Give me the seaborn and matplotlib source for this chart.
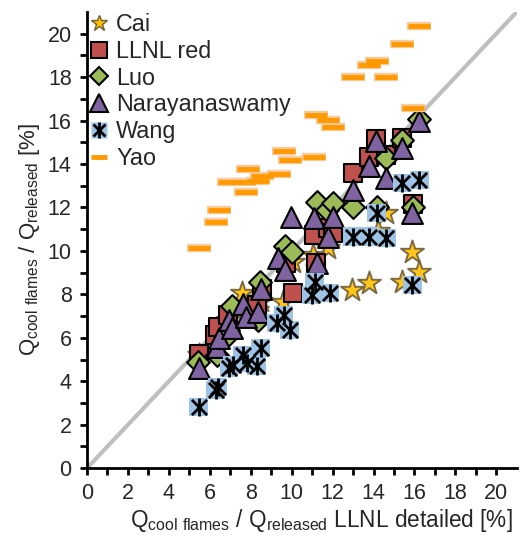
import matplotlib
matplotlib.use("Agg")
import matplotlib.pyplot as plt
import seaborn as sns
import pandas as pd
import numpy as np
from matplotlib.lines import Line2D

# ---- data ----
cai_x = [5.46, 6.34, 6.90, 7.56, 8.29, 8.50, 9.56, 10.05, 11.02, 11.76, 12.93, 13.80, 14.20, 14.63, 15.37, 15.90, 16.24]
cai_y = [5.20, 5.90, 6.80, 8.06, 7.30, 7.70, 7.65, 9.49, 9.82, 10.14, 8.20, 8.53, 10.90, 11.75, 8.57, 9.95, 9.03]

llnl_x = [5.46, 6.24, 6.39, 6.88, 8.29, 8.54, 9.71, 10.05, 11.07, 11.17, 11.76, 12.00, 12.98, 13.76, 14.10, 14.63, 15.41, 15.95]
llnl_y = [5.25, 6.13, 6.50, 7.05, 7.51, 8.25, 9.45, 8.06, 10.74, 9.45, 11.06, 10.83, 13.59, 14.33, 15.16, 14.42, 15.21, 12.17]

luo_x = [5.41, 6.34, 6.88, 7.07, 8.34, 8.44, 9.66, 10.00, 11.22, 11.71, 12.00, 12.98, 14.15, 14.59, 15.41, 16.24, 15.95]
luo_y = [4.88, 5.21, 6.13, 7.47, 6.82, 8.57, 10.23, 9.95, 12.26, 11.89, 12.21, 12.03, 12.03, 14.29, 15.12, 16.08, 12.03]

nara_x = [5.46, 6.34, 6.44, 6.93, 7.07, 7.61, 7.76, 8.34, 8.49, 9.32, 9.66, 9.95, 11.07, 11.22, 11.76, 12.00, 12.98, 13.80, 14.10, 14.59, 15.41, 16.20, 15.90]
nara_y = [4.61, 5.58, 5.99, 6.82, 6.45, 7.56, 6.96, 7.19, 8.25, 9.68, 9.12, 11.57, 11.52, 9.45, 10.65, 11.57, 12.81, 13.92, 15.07, 13.36, 14.75, 15.99, 11.75]

wang_x = [5.46, 6.29, 6.39, 6.93, 7.12, 7.61, 7.80, 8.29, 8.49, 9.27, 9.61, 9.90, 11.12, 10.98, 11.85, 12.98, 13.80, 14.63, 14.15, 15.41, 16.24, 15.90]
wang_y = [2.81, 3.59, 3.73, 4.61, 4.75, 5.21, 4.84, 4.70, 5.53, 6.68, 7.05, 6.36, 8.57, 7.97, 8.06, 10.65, 10.65, 10.60, 11.75, 13.13, 13.27, 8.43]

yao_x = [5.46, 6.29, 6.44, 6.93, 7.66, 7.76, 7.85, 8.34, 8.54, 9.37, 9.61, 9.90, 11.17, 11.76, 12.00, 11.07, 12.98, 13.80, 14.15, 14.59, 15.41, 16.24, 15.95]
yao_y = [10.14, 11.34, 11.89, 13.18, 13.18, 12.72, 13.78, 13.23, 13.46, 13.55, 14.61, 14.19, 16.27, 16.04, 15.71, 14.33, 18.02, 18.57, 18.76, 18.02, 19.54, 20.37, 16.59]

diag = [0, 21]
x_ticks = [0, 2, 4, 6, 8, 10, 12, 14, 16, 18, 20]
y_ticks = [0, 2, 4, 6, 8, 10, 12, 14, 16, 18, 20]

sns.set_theme(style="white")
plt.rcParams['font.family'] = ['Liberation Sans', 'DejaVu Sans']
plt.rcParams['mathtext.fontset'] = 'custom'
plt.rcParams['mathtext.rm'] = 'Liberation Sans'

fig = plt.figure(figsize=(5.21, 5.40), dpi=100)
ax = fig.add_axes([0.167, 0.133, 0.825, 0.845])

sns.lineplot(x=diag, y=diag, ax=ax, color='#BFBFBF', linewidth=3, zorder=1)

def df(x, y):
    return pd.DataFrame({'x': x, 'y': y})

# Cai: gold stars with soft dark glow
sns.scatterplot(data=df(cai_x, cai_y), x='x', y='y', ax=ax, marker='*', s=300,
                color='#FFC000', edgecolor='#6F5E3A', linewidth=1.4, alpha=0.9, zorder=2)
# LLNL red
sns.scatterplot(data=df(llnl_x, llnl_y), x='x', y='y', ax=ax, marker='s', s=160,
                color='#C0504D', edgecolor='black', linewidth=1.5, zorder=3)
# Luo
sns.scatterplot(data=df(luo_x, luo_y), x='x', y='y', ax=ax, marker='D', s=135,
                color='#9BBB59', edgecolor='black', linewidth=1.5, zorder=4)
# Narayanaswamy
sns.scatterplot(data=df(nara_x, nara_y), x='x', y='y', ax=ax, marker='^', s=225,
                color='#8064A2', edgecolor='black', linewidth=1.5, zorder=5)
# Wang: light-blue square + black asterisk
sns.scatterplot(data=df(wang_x, wang_y), x='x', y='y', ax=ax, marker='s', s=180,
                color='#9DC3E6', edgecolor='none', linewidth=0, zorder=6)
sns.scatterplot(data=df(wang_x, wang_y), x='x', y='y', ax=ax, marker='x', s=120,
                color='black', linewidth=2.0, zorder=7)
sns.scatterplot(data=df(wang_x, wang_y), x='x', y='y', ax=ax, marker='|', s=170,
                color='black', linewidth=2.0, zorder=7)
# Yao: orange dashes
sns.scatterplot(data=df(yao_x, yao_y), x='x', y='y', ax=ax, marker='_', s=300,
                color='#FBC89A', linewidth=6, zorder=8)
sns.scatterplot(data=df(yao_x, yao_y), x='x', y='y', ax=ax, marker='_', s=260,
                color='#FF9900', linewidth=3.5, zorder=9)

ax.set_xlim(0, 21)
ax.set_ylim(0, 21)
ax.set_xticks(x_ticks)
ax.set_yticks(y_ticks)
ax.set_xticks(np.arange(1, 21, 2), minor=True)
ax.set_yticks(np.arange(1, 21, 2), minor=True)
ax.tick_params(axis='both', which='both', direction='out', length=5, width=2,
               color='black', labelsize=15.5, pad=6)
ax.tick_params(axis='both', which='both', bottom=True, left=True)
for s in ['top', 'right']:
    ax.spines[s].set_visible(False)
for s in ['left', 'bottom']:
    ax.spines[s].set_color('black')
    ax.spines[s].set_linewidth(2)

ax.set_xlabel(r'Q$_{\mathregular{cool\ flames}}$ / Q$_{\mathregular{released}}$ LLNL detailed [%]',
              fontsize=16.3, labelpad=2)
ax.set_ylabel(r'Q$_{\mathregular{cool\ flames}}$ / Q$_{\mathregular{released}}$ [%]',
              fontsize=16, labelpad=4)
ax.xaxis.set_label_coords(0.545, -0.085)

h_cai = Line2D([], [], marker='*', linestyle='none', markersize=12, markerfacecolor='#FFC000',
               markeredgecolor='#6F5E3A', markeredgewidth=1.0)
h_llnl = Line2D([], [], marker='s', linestyle='none', markersize=11, markerfacecolor='#C0504D',
                markeredgecolor='black', markeredgewidth=1.5)
h_luo = Line2D([], [], marker='D', linestyle='none', markersize=9, markerfacecolor='#9BBB59',
               markeredgecolor='black', markeredgewidth=1.5)
h_nara = Line2D([], [], marker='^', linestyle='none', markersize=13, markerfacecolor='#8064A2',
                markeredgecolor='black', markeredgewidth=1.5)
h_w1 = Line2D([], [], marker='s', linestyle='none', markersize=11, markerfacecolor='#9DC3E6',
              markeredgecolor='none')
h_w2 = Line2D([], [], marker='x', linestyle='none', markersize=9, markeredgecolor='black',
              markeredgewidth=2)
h_w3 = Line2D([], [], marker='|', linestyle='none', markersize=11, markeredgecolor='black',
              markeredgewidth=2)
h_yao = Line2D([], [], marker='_', linestyle='none', markersize=12, markeredgecolor='#FF9900',
               markeredgewidth=3.5)
leg = ax.legend([h_cai, h_llnl, h_luo, h_nara, (h_w1, h_w2, h_w3), h_yao],
                ['Cai', 'LLNL red', 'Luo', 'Narayanaswamy', 'Wang', 'Yao'],
                loc='upper left', bbox_to_anchor=(-0.03, 1.028), frameon=False,
                fontsize=16.8, handlelength=0.9, handletextpad=0.3, labelspacing=0.16,
                borderaxespad=0.2)

fig.savefig('out.png', dpi=100)
